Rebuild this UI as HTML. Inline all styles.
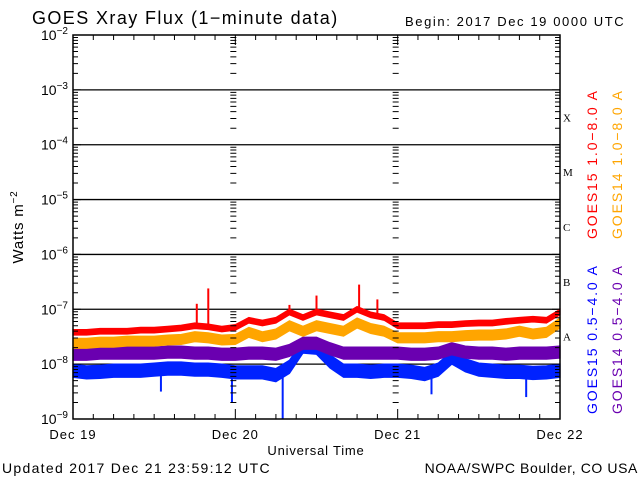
<!DOCTYPE html>
<html><head><meta charset="utf-8"><style>
body{margin:0;background:#fff;}
svg{display:block;font-family:"Liberation Sans",sans-serif;}
</style></head><body>
<svg id="chart" width="640" height="480" viewBox="0 0 640 480">
<rect width="640" height="480" fill="#fff"/>
<text x="32" y="24" font-size="18" letter-spacing="1.4">GOES Xray Flux (1−minute data)</text>
<text x="405" y="26" font-size="13" letter-spacing="1.6">Begin:  2017 Dec 19 0000 UTC</text>
<text transform="translate(23,227) rotate(-90)" text-anchor="middle" font-size="15" letter-spacing="0.8">Watts m<tspan dy="-6" font-size="10">−2</tspan></text>
<text x="316" y="455" text-anchor="middle" font-size="13" letter-spacing="0.8">Universal Time</text>
<text x="2" y="473" font-size="14" letter-spacing="1.3">Updated 2017 Dec 21 23:59:12 UTC</text>
<text x="638" y="473" text-anchor="end" font-size="14" letter-spacing="0.6">NOAA/SWPC Boulder, CO USA</text>
<g id="grid"></g>
<g id="series"></g>
<g id="axes"></g>
<text transform="translate(597,239) rotate(-90)" fill="#ff0000" font-size="14" letter-spacing="1.9">GOES15 1.0−8.0 A</text>
<text transform="translate(622,239) rotate(-90)" fill="#ffa500" font-size="14" letter-spacing="1.9">GOES14 1.0−8.0 A</text>
<text transform="translate(597,414) rotate(-90)" fill="#0000ff" font-size="14" letter-spacing="1.9">GOES15 0.5−4.0 A</text>
<text transform="translate(622,414) rotate(-90)" fill="#6a00b0" font-size="14" letter-spacing="1.9">GOES14 0.5−4.0 A</text>
</svg>
<script>
// log10 flux values every 2 hours, Dec 19 00UT .. Dec 22 00UT (37 points)
const hours = Array.from({length:37},(_,i)=>i*2);
const goes15Long = [-7.42,-7.42,-7.40,-7.40,-7.40,-7.38,-7.38,-7.36,-7.34,-7.30,-7.32,-7.36,-7.33,-7.20,-7.25,-7.20,-7.05,-7.15,-7.05,-7.10,-7.15,-7.00,-7.10,-7.15,-7.30,-7.30,-7.30,-7.28,-7.28,-7.26,-7.25,-7.25,-7.22,-7.20,-7.18,-7.20,-7.05];
const goes14Long = [-7.62,-7.62,-7.60,-7.60,-7.58,-7.58,-7.58,-7.56,-7.55,-7.50,-7.52,-7.56,-7.55,-7.42,-7.50,-7.45,-7.30,-7.40,-7.30,-7.35,-7.40,-7.25,-7.35,-7.40,-7.52,-7.52,-7.52,-7.50,-7.50,-7.48,-7.47,-7.47,-7.45,-7.40,-7.45,-7.42,-7.25];
const goes14Short = [-7.82,-7.82,-7.80,-7.80,-7.80,-7.80,-7.80,-7.78,-7.78,-7.80,-7.80,-7.82,-7.82,-7.80,-7.80,-7.82,-7.75,-7.62,-7.62,-7.72,-7.80,-7.80,-7.80,-7.80,-7.80,-7.82,-7.82,-7.80,-7.72,-7.78,-7.80,-7.80,-7.82,-7.80,-7.80,-7.80,-7.78];
const goes15Short = [-8.12,-8.15,-8.14,-8.12,-8.12,-8.12,-8.10,-8.08,-8.08,-8.10,-8.10,-8.12,-8.15,-8.15,-8.15,-8.20,-8.05,-7.68,-7.70,-7.95,-8.12,-8.12,-8.14,-8.12,-8.12,-8.14,-8.18,-8.10,-7.88,-8.02,-8.10,-8.12,-8.14,-8.14,-8.16,-8.15,-8.12];
const spikeHours = [18.3,20.0,32.0,36.0,42.3,45.0,31.0,23.5,13.0,53.0,67.0];
const spikeValues = [-6.90,-6.62,-6.92,-6.75,-6.55,-6.82,-9.0,-8.7,-8.5,-8.55,-8.6];
const spikeSeries = ['goes15Long','goes15Long','goes15Long','goes15Long','goes15Long','goes15Long','goes15Short','goes15Short','goes15Short','goes15Short','goes15Short'];
const dayLabels = ['Dec 19','Dec 20','Dec 21','Dec 22'];
const decadeExps = [-2,-3,-4,-5,-6,-7,-8,-9];
const flareClasses = ['X','M','C','B','A'];

const X0=73,X1=560,Y0=35,Y1=419;
const x = h => X0 + h/72*(X1-X0);
const y = lv => Y0 + (-2-lv)/7*(Y1-Y0);
const NS='http://www.w3.org/2000/svg';
function mk(tag,attrs,parent){const e=document.createElementNS(NS,tag);for(const k in attrs)e.setAttribute(k,attrs[k]);parent.appendChild(e);return e;}
const grid=document.getElementById('grid'),axes=document.getElementById('axes'),ser=document.getElementById('series');

decadeExps.forEach(ex=>{
  const yy=y(ex);
  if(ex<-2&&ex>-9){const l=mk('line',{x1:X0,x2:X1,y1:yy,y2:yy,stroke:'#000','stroke-width':1.3},grid);
  
  }
  const t=mk('text',{x:68,y:yy+5,'text-anchor':'end','font-size':14},axes);
  
  
  t.innerHTML='10<tspan dy="-6" font-size="10">'+ex.toString().replace('-','−')+'</tspan>';
});
let minor='';
for(let ex=-9;ex<-2;ex++){for(let m=2;m<=9;m++){const yy=y(ex+Math.log10(m));
  minor+=`M${X0} ${yy}h5M${X1} ${yy}h-5`;
  [1,2].forEach(d=>{const xx=x(d*24)-2;minor+=`M${xx-3} ${yy}h6`;});}
  const yy=y(ex);minor+=`M${X0} ${yy}h8M${X1} ${yy}h-8`;}
for(let h=0;h<=72;h+=3){const xx=x(h);const len=h%24===0?10:5;minor+=`M${xx} ${Y1}v${-len}M${xx} ${Y0}v${len}`;}
const mt=mk('path',{d:minor,stroke:'#000','stroke-width':1,fill:'none'},axes);


const fr=mk('rect',{x:X0,y:Y0,width:X1-X0,height:Y1-Y0,fill:'none',stroke:'#000','stroke-width':1.5},axes);


dayLabels.forEach((d,i)=>{const t=mk('text',{x:x(i*24),y:439,'text-anchor':'middle','font-size':13,'letter-spacing':1},axes);t.textContent=d;
  
  });
flareClasses.forEach((c,i)=>{const t=mk('text',{x:563,y:y(-3.5-i)+4,'font-size':11,'font-family':'Liberation Serif, serif'},axes);t.textContent=c;
  
  });

const defs={goes14Short:{d:goes14Short,c:'#6a00b0',s:0.11},goes15Short:{d:goes15Short,c:'#0022ff',s:0.12},goes14Long:{d:goes14Long,c:'#ffa500',s:0.09},goes15Long:{d:goes15Long,c:'#ff0000',s:0.05}};
['goes15Short','goes14Short','goes14Long','goes15Long'].forEach(k=>{
  const {d,c,s}=defs[k];
  let top='',bot='';
  hours.forEach((h,i)=>{top+=(i?'L':'M')+x(h)+' '+y(d[i]+s);});
  for(let i=hours.length-1;i>=0;i--)bot+='L'+x(hours[i])+' '+y(d[i]-s);
  const band=mk('path',{d:top+bot+'Z',fill:c,stroke:c,'stroke-width':1.2},ser);
  
  
  spikeHours.forEach((h,j)=>{if(spikeSeries[j]!==k)return;
    const i=Math.min(hours.length-1,Math.round(h/2));
    const sp=mk('line',{x1:x(h),x2:x(h),y1:y(d[i]),y2:y(spikeValues[j]),stroke:c,'stroke-width':2},ser);
    
    });
});
</script>
</body></html>
